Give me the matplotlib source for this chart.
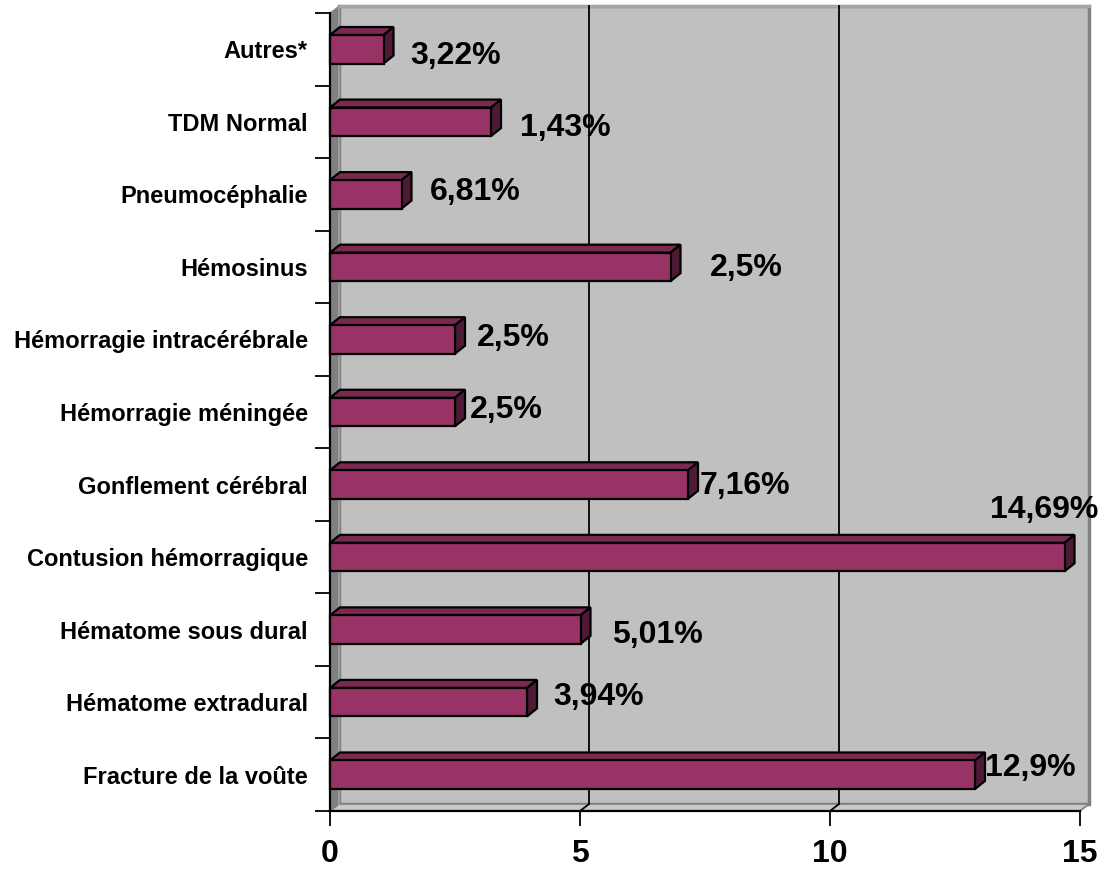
import numpy as np
import matplotlib
matplotlib.use("Agg")
import matplotlib.pyplot as plt
from matplotlib.patches import Polygon, Rectangle

# ---------------------------------------------------------------------------
# Data (bottom to top)
# ---------------------------------------------------------------------------
categories = [
    "Fracture de la voûte",
    "Hématome extradural",
    "Hématome sous dural",
    "Contusion hémorragique",
    "Gonflement cérébral",
    "Hémorragie méningée",
    "Hémorragie intracérébrale",
    "Hémosinus",
    "Pneumocéphalie",
    "TDM Normal",
    "Autres*",
]
values = [12.9, 3.94, 5.01, 14.69, 7.16, 2.5, 2.5, 6.81, 1.43, 3.22, 1.07]
value_labels = ["12,9%", "3,94%", "5,01%", "14,69%", "7,16%", "2,5%",
                "2,5%", "2,5%", "6,81%", "1,43%", "3,22%"]
x_ticks = [0, 5, 10, 15]

# where each value label sits (data coords, left edge / vertical centre)
label_x = [13.1, 4.46, 5.64, 13.2, 7.4, 2.8, 2.94, 7.6, 2.0, 3.8, 1.6]
label_y = [0.09, 1.07, 1.93, 3.65, 3.98, 5.03, 6.02, 6.98, 8.03, 8.91, 9.91]

# ---------------------------------------------------------------------------
# Style
# ---------------------------------------------------------------------------
FONT = ["Liberation Sans", "DejaVu Sans"]
plt.rcParams["font.family"] = FONT

BAR_FRONT = "#993366"
BAR_TOP = "#7a2951"
BAR_SIDE = "#4f1a35"
WALL = "#c0c0c0"
SIDE_WALL = "#808080"

W, H, DPI = 1104, 869, 100
AX_L, AX_B, AX_W, AX_H = 330, 58, 750, 798
XMAX = 15
N = len(categories)
PX_X = AX_W / XMAX          # pixels per x unit
PX_Y = AX_H / N             # pixels per category

# 3-D depth offsets, in data units
WDX, WDY = 9 / PX_X, 7 / PX_Y      # walls
BDX, BDY = 10 / PX_X, 8 / PX_Y     # bars
BAR_H = 28.5 / PX_Y

fig = plt.figure(figsize=(W / DPI, H / DPI), dpi=DPI)
ax = fig.add_axes([AX_L / W, AX_B / H, AX_W / W, AX_H / H])
ax.set_xlim(0, XMAX)
ax.set_ylim(-0.5, N - 0.5)
ax.patch.set_visible(False)

y0, y1 = -0.5, N - 0.5

# back wall
ax.add_patch(Rectangle((WDX, y0 + WDY), XMAX, y1 - y0, facecolor=WALL,
                       edgecolor=SIDE_WALL, lw=2.5, clip_on=False, zorder=0.5))
ax.plot([WDX, XMAX + WDX], [y1 + WDY, y1 + WDY], color="#a8a8a8", lw=2,
        clip_on=False, zorder=0.6)
# left side wall
ax.add_patch(Polygon([(0, y0), (WDX, y0 + WDY), (WDX, y1 + WDY), (0, y1)],
                     closed=True, facecolor=SIDE_WALL, edgecolor="#909090",
                     lw=0.8, clip_on=False, zorder=0.7))
ax.plot([WDX, WDX], [y0 + WDY, y1 + WDY], color="#a0a0a0", lw=1.2,
        clip_on=False, zorder=0.75)
# floor
ax.add_patch(Polygon([(0, y0), (XMAX, y0), (XMAX + WDX, y0 + WDY),
                      (WDX, y0 + WDY)],
                     closed=True, facecolor="#c8c8c8", edgecolor=SIDE_WALL,
                     lw=1.2, clip_on=False, zorder=0.7))

# gridlines on the back wall and floor
for gx in x_ticks[1:-1]:
    ax.plot([gx + WDX, gx + WDX], [y0 + WDY, y1 + WDY], color="black",
            lw=1.3, clip_on=False, zorder=0.8)
    ax.plot([gx, gx + WDX], [y0, y0 + WDY], color="black", lw=1.3,
            clip_on=False, zorder=0.8)

# 3-D bars
for i, v in enumerate(values):
    lo, hi = i - BAR_H / 2, i + BAR_H / 2
    ax.add_patch(Polygon([(0, hi), (v, hi), (v + BDX, hi + BDY),
                          (BDX, hi + BDY)], closed=True,
                         facecolor=BAR_TOP, edgecolor="black", lw=1.6,
                         clip_on=False, zorder=2))
    ax.add_patch(Polygon([(v, lo), (v + BDX, lo + BDY), (v + BDX, hi + BDY),
                          (v, hi)], closed=True,
                         facecolor=BAR_SIDE, edgecolor="black", lw=1.6,
                         clip_on=False, zorder=2))
    ax.add_patch(Rectangle((0, lo), v, BAR_H, facecolor=BAR_FRONT,
                           edgecolor="black", lw=1.6, clip_on=False,
                           zorder=3))

# value labels
for lx, ly, txt in zip(label_x, label_y, value_labels):
    ax.text(lx, ly, txt, ha="left", va="center", fontsize=23,
            fontweight="bold", color="black", clip_on=False, zorder=5)

# axes lines
for side in ("top", "right"):
    ax.spines[side].set_visible(False)
for side in ("left", "bottom"):
    ax.spines[side].set_color("black")
    ax.spines[side].set_linewidth(1.6)
    ax.spines[side].set_zorder(4)

ax.set_xticks(x_ticks)
ax.set_xticklabels([str(t) for t in x_ticks], fontsize=23, fontweight="bold")
ax.tick_params(axis="x", direction="out", length=11, width=1.3, pad=9)

ax.set_yticks(np.arange(-0.5, N, 1.0))
ax.set_yticklabels([])
ax.tick_params(axis="y", which="major", direction="out", length=11,
               width=1.3)
ax.set_yticks(np.arange(N), minor=True)
ax.set_yticklabels(categories, minor=True, fontsize=17, fontweight="bold")
ax.tick_params(axis="y", which="minor", length=0, pad=16)

fig.savefig("out.png", dpi=DPI, facecolor="white")
